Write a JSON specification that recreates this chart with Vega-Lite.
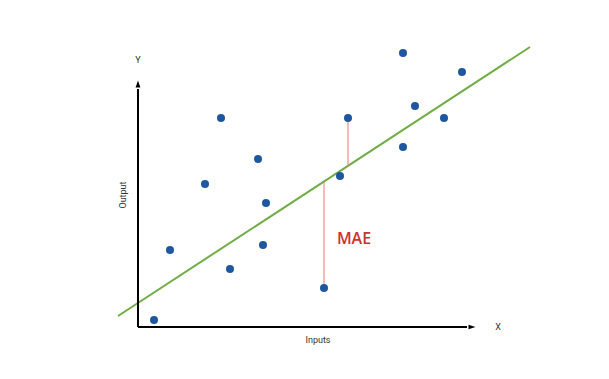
{
  "$schema": "https://vega.github.io/schema/vega-lite/v6.json",
  "width": 609,
  "height": 379,
  "autosize": {"type": "fit", "contains": "padding"},
  "padding": 0,
  "background": "white",
  "config": {"view": {"stroke": null}},
  "datasets": {
    "axes": [
      {"x": 138, "y": 52, "x2": 138, "y2": 290},
      {"x": 138, "y": 52, "x2": 467, "y2": 52}
    ],
    "heads": [
      {"x": 138, "y": 295, "dir": "up"},
      {"x": 472, "y": 52, "dir": "right"}
    ],
    "fit": [
      {"x": 118, "y": 63, "x2": 530, "y2": 332}
    ],
    "resid": [
      {"x": 324, "y": 91, "x2": 324, "y2": 197},
      {"x": 348, "y": 261, "x2": 348, "y2": 213}
    ],
    "pts": [
      {"x": 154, "y": 59},
      {"x": 170, "y": 129},
      {"x": 205, "y": 195},
      {"x": 221, "y": 261},
      {"x": 230, "y": 110},
      {"x": 258, "y": 220},
      {"x": 266, "y": 176},
      {"x": 263, "y": 134},
      {"x": 324, "y": 91},
      {"x": 340, "y": 203},
      {"x": 348, "y": 261},
      {"x": 403, "y": 326},
      {"x": 415, "y": 273},
      {"x": 403, "y": 232},
      {"x": 444, "y": 261},
      {"x": 462, "y": 307}
    ],
    "labels": [
      {"x": 138, "y": 319, "t": "Y", "angle": 0},
      {"x": 498, "y": 52, "t": "X", "angle": 0},
      {"x": 318, "y": 39, "t": "Inputs", "angle": 0},
      {"x": 123, "y": 184, "t": "Output", "angle": 270}
    ],
    "mae": [
      {"x": 354, "y": 140, "t": "MAE"}
    ]
  },
  "encoding": {
    "x": {"field": "x", "type": "quantitative", "scale": {"domain": [0, 609], "nice": false, "zero": false}, "axis": null},
    "y": {"field": "y", "type": "quantitative", "scale": {"domain": [0, 379], "nice": false, "zero": false}, "axis": null}
  },
  "layer": [
    {
      "data": {"name": "fit"},
      "mark": {"type": "rule", "color": "#70ad47", "strokeWidth": 2},
      "encoding": {"x2": {"field": "x2"}, "y2": {"field": "y2"}}
    },
    {
      "data": {"name": "resid"},
      "mark": {"type": "rule", "color": "#e8777a", "strokeWidth": 1},
      "encoding": {"x2": {"field": "x2"}, "y2": {"field": "y2"}}
    },
    {
      "data": {"name": "axes"},
      "mark": {"type": "rule", "color": "black", "strokeWidth": 2},
      "encoding": {"x2": {"field": "x2"}, "y2": {"field": "y2"}}
    },
    {
      "data": {"name": "heads"},
      "transform": [{"filter": "datum.dir == 'up'"}],
      "mark": {"type": "point", "filled": true, "color": "black", "opacity": 1, "size": 196, "shape": "M-0.34,0.5L0,-0.5L0.34,0.5Z"}
    },
    {
      "data": {"name": "heads"},
      "transform": [{"filter": "datum.dir == 'right'"}],
      "mark": {"type": "point", "filled": true, "color": "black", "opacity": 1, "size": 196, "shape": "M-0.5,-0.31L0.5,0L-0.5,0.31Z"}
    },
    {
      "data": {"name": "pts"},
      "mark": {"type": "circle", "color": "#1f56a0", "opacity": 1, "size": 64}
    },
    {
      "data": {"name": "labels"},
      "mark": {"type": "text", "font": "Roboto", "fontSize": 9, "color": "#333333", "baseline": "middle", "align": "center"},
      "encoding": {"text": {"field": "t"}, "angle": {"field": "angle", "type": "quantitative", "scale": null}}
    },
    {
      "data": {"name": "mae"},
      "mark": {"type": "text", "font": "Open Sans", "fontSize": 16, "fontWeight": 600, "color": "#c8352f", "baseline": "middle", "align": "center"},
      "encoding": {"text": {"field": "t"}}
    }
  ]
}
